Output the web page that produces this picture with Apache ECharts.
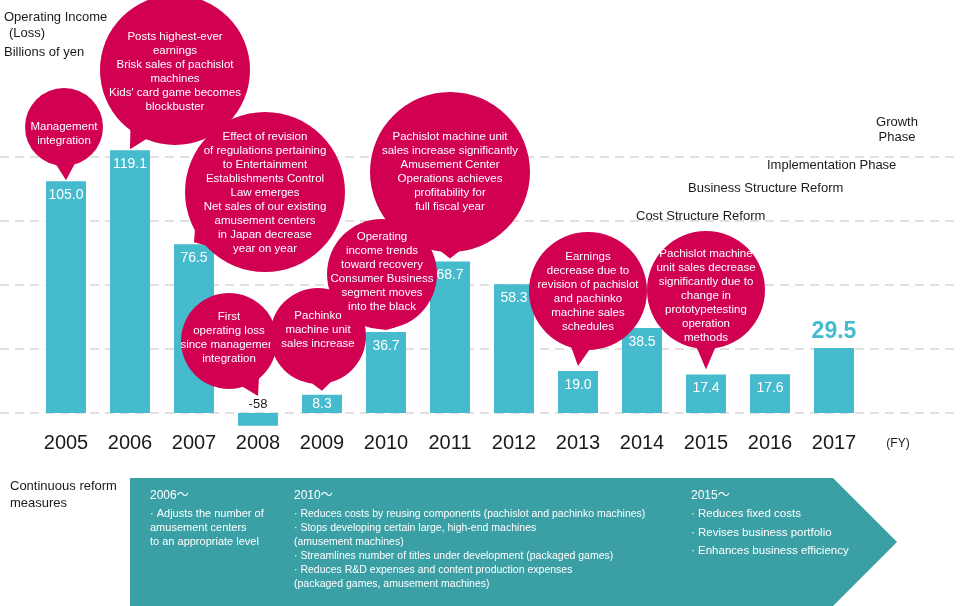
<!DOCTYPE html>
<html><head><meta charset="utf-8">
<script src="https://cdn.jsdelivr.net/npm/echarts@6/dist/echarts.min.js"></script>
<style>html,body{margin:0;padding:0;background:#fff}#c{width:960px;height:606px}</style>
</head><body><div id="c"></div>
<script>
// ---------- data ----------
const years = ['2005','2006','2007','2008','2009','2010','2011','2012','2013','2014','2015','2016','2017'];
const income = [105.0, 119.1, 76.5, -5.8, 8.3, 36.7, 68.7, 58.3, 19.0, 38.5, 17.4, 17.6, 29.5];
const incomeLabels = ['105.0','119.1','76.5','-58','8.3','36.7','68.7','58.3','19.0','38.5','17.4','17.6','29.5'];
const axisUnit = '(FY)';
const titleLines = ['Operating Income', '(Loss)', 'Billions of yen'];
// notes are listed in drawing order (later ones lie on top)
const noteYears = ['2005','2006','2007','2008','2009','2011','2010','2013','2015'];
const noteTexts = [
  'Management\nintegration',
  'Posts highest-ever\nearnings\nBrisk sales of pachislot\nmachines\nKids\' card game becomes\nblockbuster',
  'Effect of revision\nof regulations pertaining\nto Entertainment\nEstablishments Control\nLaw emerges\nNet sales of our existing\namusement centers\nin Japan decrease\nyear on year',
  'First\noperating loss\nsince management\nintegration',
  'Pachinko\nmachine unit\nsales increase',
  'Pachislot machine unit\nsales increase significantly\nAmusement Center\nOperations achieves\nprofitability for\nfull fiscal year',
  'Operating\nincome trends\ntoward recovery\nConsumer Business\nsegment moves\ninto the black',
  'Earnings\ndecrease due to\nrevision of pachislot\nand pachinko\nmachine sales\nschedules',
  'Pachislot machine\nunit sales decrease\nsignificantly due to\nchange in\nprototypetesting\noperation\nmethods'
];
const phaseLabels = ['Growth\nPhase', 'Implementation Phase', 'Business Structure Reform', 'Cost Structure Reform'];
const reformTitle = 'Continuous reform\nmeasures';
const reformPeriods = ['2006〜', '2010〜', '2015〜'];
const reformItems = [
  ['· Adjusts the number of', 'amusement centers', 'to an appropriate level'],
  ['· Reduces costs by reusing components (pachislot and pachinko machines)',
   '· Stops developing certain large, high-end machines',
   '(amusement machines)',
   '· Streamlines number of titles under development (packaged games)',
   '· Reduces R&D expenses and content production expenses',
   '(packaged games, amusement machines)'],
  ['· Reduces fixed costs', '· Revises business portfolio', '· Enhances business efficiency']
];

// ---------- layout / style ----------
const FONT = '"Liberation Sans", Arial, "Noto Sans CJK JP", sans-serif';
const BAR = '#45BBCD', RED = '#D10050', TEAL = '#3BA0A6', INK = '#1a1a1a';
const noteLayout = [
  {cx: 64,  cy: 127, r: 39, ty: 7,  gap: 1},
  {cx: 175, cy: 70,  r: 75, ty: 2,  gap: 1},
  {cx: 265, cy: 192, r: 80, ty: 1,  gap: 2},
  {cx: 229, cy: 341, r: 48, ty: -3, gap: 17},
  {cx: 318, cy: 336, r: 48, ty: -6, gap: 4},
  {cx: 450, cy: 172, r: 80, ty: 0,  gap: 3},
  {cx: 382, cy: 274, r: 55, ty: -2, gap: 2},
  {cx: 588, cy: 291, r: 59, ty: 1,  gap: 5},
  {cx: 706, cy: 290, r: 59, ty: 6,  gap: 5}
];

const barData = income.map((v, i) => {
  const d = {value: v};
  if (v < 0) d.label = {position: 'top', distance: 2, color: INK, fontSize: 13};
  else if (v < 10) d.label = {position: 'inside'};
  if (i === income.length - 1) d.label = {position: 'top', distance: 5, color: BAR, fontSize: 23, fontWeight: 'bold'};
  return d;
});
const noteData = noteYears.map((y, k) => { const i = years.indexOf(y); return [i, income[i], k]; });

function renderNote(params, api) {
  const i = api.value(0), v = api.value(1), k = api.value(2);
  const L = noteLayout[k];
  const tip = api.coord([i, Math.max(v, 0)]);
  tip[1] -= L.gap;
  const a = Math.atan2(tip[1] - L.cy, tip[0] - L.cx);
  const w = 9 / L.r;
  const p1 = [L.cx + L.r * Math.cos(a - w), L.cy + L.r * Math.sin(a - w)];
  const p2 = [L.cx + L.r * Math.cos(a + w), L.cy + L.r * Math.sin(a + w)];
  return {
    type: 'group',
    children: [
      {type: 'polygon', shape: {points: [p1, tip, p2, [L.cx, L.cy]]}, style: {fill: RED}},
      {type: 'circle', shape: {cx: L.cx, cy: L.cy, r: L.r}, style: {fill: RED}},
      {type: 'text', x: L.cx, y: L.cy + L.ty,
       style: {text: noteTexts[k], align: 'center', verticalAlign: 'middle', fill: '#fff',
               fontSize: 11.5, fontFamily: FONT, lineHeight: 14}}
    ]
  };
}

function txt(x, y, text, size, opt) {
  opt = opt || {};
  return {type: 'text', x: x, y: y, z: 1,
    style: {text: text, font: size + 'px ' + FONT, fill: opt.fill || INK,
      align: opt.align || 'left', textAlign: opt.align || 'left',
      verticalAlign: opt.va || 'middle', textVerticalAlign: opt.va || 'middle',
      lineHeight: opt.lh || Math.round(size * 1.3)}};
}

const graphics = [
  txt(4, 17, titleLines[0], 13),
  txt(9, 33, titleLines[1], 13),
  txt(4, 52, titleLines[2], 13),
  txt(897, 129.5, phaseLabels[0], 13, {align: 'center', lh: 15}),
  txt(767, 165, phaseLabels[1], 13),
  txt(688, 188, phaseLabels[2], 13),
  txt(636, 216, phaseLabels[3], 13),
  txt(10, 494.5, reformTitle, 13, {lh: 17}),
  {type: 'polygon', z: 0, shape: {points: [[130,478],[833,478],[897,542],[833,606],[130,606]]}, style: {fill: TEAL}},
  txt(150, 496, reformPeriods[0], 12, {fill: '#fff'}),
  txt(294, 496, reformPeriods[1], 12, {fill: '#fff'}),
  txt(691, 496, reformPeriods[2], 12, {fill: '#fff'}),
  txt(150, 507, reformItems[0].join('\n'), 11, {fill: '#fff', va: 'top', lh: 14}),
  txt(294, 507, reformItems[1].join('\n'), 10.5, {fill: '#fff', va: 'top', lh: 14}),
  txt(691, 505, reformItems[2].join('\n'), 11.5, {fill: '#fff', va: 'top', lh: 18.5})
];

const chart = echarts.init(document.getElementById('c'), null, {renderer: 'canvas'});
chart.setOption({
  animation: false,
  textStyle: {fontFamily: FONT},
  grid: [
    {left: 34, right: 30, top: 93, bottom: 129},
    {left: 0, right: 0, top: 93, bottom: 129}
  ],
  xAxis: [
    {type: 'category', gridIndex: 0, data: years.concat([axisUnit]),
     axisLine: {show: false}, axisTick: {show: false},
     axisLabel: {interval: 0, margin: -44, fontSize: 20, color: INK,
       formatter: v => v === axisUnit ? '{fy|' + v + '}' : v,
       rich: {fy: {fontSize: 12, color: INK, padding: [5, 0, 0, 0]}}}},
    {type: 'value', gridIndex: 1, min: 0, max: 1, show: false}
  ],
  yAxis: [
    {type: 'value', gridIndex: 0, min: -29, max: 145, interval: 29, show: false},
    {type: 'value', gridIndex: 1, min: -29, max: 145, interval: 29,
     axisLabel: {show: false}, axisLine: {show: false}, axisTick: {show: false},
     splitLine: {show: true, showMinLine: false, showMaxLine: false,
       lineStyle: {color: '#e0e0e0', width: 2, type: [9, 6]}}}
  ],
  graphic: graphics,
  series: [
    {type: 'line', xAxisIndex: 1, yAxisIndex: 1, data: [], silent: true},
    {type: 'bar', xAxisIndex: 0, yAxisIndex: 0, barWidth: 40, data: barData,
     itemStyle: {color: BAR},
     label: {show: true, position: 'insideTop', distance: 7, color: '#fff', fontSize: 14,
       formatter: p => incomeLabels[p.dataIndex]}},
    {type: 'custom', xAxisIndex: 0, yAxisIndex: 0, z: 5, clip: false,
     data: noteData, renderItem: renderNote}
  ]
});
</script></body></html>
